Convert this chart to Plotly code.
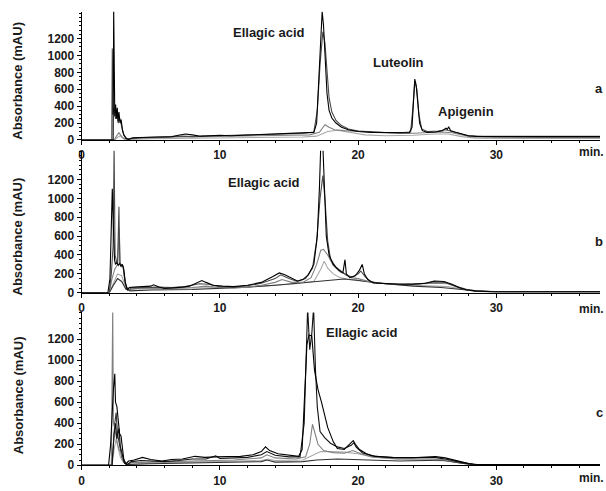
import plotly.graph_objects as go

# ---------------- DATA (time in min, absorbance in mAU) ----------------
# Panel a
a_black = [(0,0),(2.28,0),(2.32,1560),(2.36,600),(2.40,280),(2.46,420),(2.52,250),(2.58,380),(2.64,220),(2.70,330),
           (2.78,200),(2.86,240),(2.95,120),(3.05,60),(3.2,20),(3.4,5),(3.7,25),(4.2,30),(5.0,35),(5.8,40),(6.5,38),
           (7.0,55),(7.5,70),(8.0,60),(8.6,45),(9.2,50),(10.0,55),(10.8,50),(11.5,55),(12.3,60),(13.0,58),(13.8,65),
           (14.6,70),(15.4,78),(16.2,82),(16.8,90),(17.0,200),(17.15,650),(17.3,1200),(17.4,1520),(17.5,1350),
           (17.62,900),(17.75,550),(17.9,350),(18.1,260),(18.4,200),(18.8,150),(19.3,120),(20.0,100),(21.0,90),
           (22.0,85),(23.0,82),(23.7,85),(23.9,150),(24.0,450),(24.1,720),(24.2,650),(24.3,420),(24.45,200),
           (24.65,110),(25.0,90),(25.6,95),(26.1,110),(26.35,140),(26.45,125),(26.55,155),(26.7,110),(27.0,95),
           (27.5,70),(28.0,50),(28.5,42),(29.5,40),(31,40),(33,40),(35,40),(37.5,40)]
a_dark = [(0,0),(2.18,0),(2.22,1080),(2.27,300),(2.35,380),(2.45,250),(2.55,320),(2.65,200),(2.75,260),(2.9,150),
          (3.05,60),(3.3,10),(3.6,20),(4.5,30),(5.5,38),(6.5,42),(7.3,45),(8.0,40),(9.0,48),(10,52),(11,55),(12,60),
          (13,62),(14,68),(15,75),(16,80),(16.8,95),(17.05,350),(17.25,900),(17.45,1280),(17.6,1150),(17.75,800),
          (17.9,500),(18.1,330),(18.4,230),(18.8,170),(19.3,130),(20,105),(21,92),(22,88),(23,85),(23.8,95),
          (23.95,350),(24.1,690),(24.25,600),(24.4,300),(24.6,130),(25,100),(25.8,105),(26.3,120),(26.6,110),
          (27.2,85),(28,48),(29,42),(32,42),(37.5,42)]
a_mid = [(0,0),(2.35,0),(2.5,40),(2.7,85),(2.9,40),(3.1,10),(3.5,15),(5,25),(7,35),(9,40),(11,45),(13,50),(15,55),
         (16.5,60),(17.2,90),(17.6,180),(17.9,150),(18.3,120),(19,110),(20,100),(21,90),(22,80),(23,78),(24,80),
         (25,90),(26,95),(26.8,85),(27.5,60),(28.2,35),(30,30),(33,30),(37.5,30)]
a_light = [(0,0),(2.4,0),(2.6,30),(2.8,50),(3.0,20),(3.3,5),(5,15),(8,20),(11,25),(14,30),(16,35),(17,45),
           (17.8,100),(18.5,115),(19.3,90),(20.5,60),(22,50),(24,55),(25.5,70),(26.5,70),(27.5,40),(28.5,20),
           (31,18),(37.5,18)]

# Panel b
b_black = [(0,0),(1.9,0),(2.05,150),(2.15,700),(2.22,1100),(2.3,700),(2.38,350),(2.45,300),(2.55,320),(2.65,290),
           (2.75,310),(2.85,280),(2.95,300),(3.05,250),(3.15,120),(3.3,30),(3.45,55),(3.8,60),(4.4,65),(5.0,70),
           (5.2,85),(5.6,60),(6.0,45),(6.6,50),(7.3,60),(7.8,70),(8.3,100),(8.7,130),(9.0,110),(9.5,80),(10.2,70),
           (11,65),(12,80),(13,110),(13.8,170),(14.3,210),(14.7,190),(15.2,150),(15.6,125),(16.0,140),(16.4,190),
           (16.8,300),(17.05,600),(17.2,1100),(17.3,1560),(17.45,1560),(17.55,1100),(17.7,600),(17.9,400),
           (18.2,300),(18.6,240),(18.9,210),(19.05,350),(19.15,200),(19.4,160),(19.8,180),(20.1,240),(20.3,300),
           (20.45,200),(20.7,140),(21.1,105),(22,95),(23,90),(24,92),(24.9,100),(25.5,125),(26.2,120),(26.8,90),
           (27.3,55),(27.8,35),(28.5,20),(29.6,12),(31,10),(37.5,10)]
b_dark = [(0,0),(2.0,0),(2.15,200),(2.28,500),(2.35,1560),(2.42,400),(2.5,350),(2.6,300),(2.7,910),(2.76,320),
          (2.85,300),(3.0,280),(3.15,100),(3.35,25),(3.6,50),(4.5,55),(5.5,60),(6.5,55),(7.5,65),(8.5,95),(9.2,90),
          (10,65),(11,60),(12,75),(13,100),(14,150),(14.4,190),(15,150),(15.6,120),(16.2,150),(16.7,260),(17.0,550),
          (17.25,1000),(17.45,1240),(17.6,1000),(17.8,550),(18.0,360),(18.4,270),(18.8,220),(19.2,180),(19.6,170),
          (20.0,200),(20.2,230),(20.5,170),(20.9,120),(21.5,100),(23,90),(24.5,95),(25.5,115),(26.3,110),(27,70),
          (27.8,30),(28.6,15),(30,10),(37.5,10)]
b_mid = [(0,0),(2.0,0),(2.2,150),(2.4,250),(2.6,300),(2.72,680),(2.8,300),(3.0,270),(3.2,80),(3.4,30),(3.8,45),
         (5,50),(6.5,45),(8,55),(9,70),(10,55),(11,50),(12,60),(13,80),(14,110),(14.5,140),(15.2,110),(16,110),
         (16.6,160),(17.0,300),(17.3,450),(17.5,460),(17.8,400),(18.2,290),(18.7,220),(19.1,200),(19.5,160),
         (20.0,150),(20.5,130),(21,110),(22,95),(24,90),(25.5,100),(26.5,95),(27.3,60),(28,30),(29,15),(31,12),
         (37.5,12)]
b_light = [(0,0),(2.0,0),(2.3,100),(2.6,200),(2.9,180),(3.2,60),(3.4,30),(4,40),(6,45),(8,50),(10,50),(12,60),
           (14,80),(15.5,95),(16.8,120),(17.3,250),(17.55,335),(17.8,260),(18.2,200),(18.7,160),(19.2,145),
           (19.8,140),(20.5,120),(21.5,100),(23,85),(25,75),(26.5,65),(27.5,40),(28.5,20),(30,12),(37.5,12)]
b_low = [(0,0),(2.0,0),(2.3,80),(2.6,150),(2.9,120),(3.2,40),(3.5,20),(5,30),(8,35),(10,45),(12,60),(14,80),
         (16,105),(17.5,125),(19,145),(20,130),(22,95),(24,70),(26,55),(27.5,35),(28.5,18),(30,10),(37.5,10)]

# Panel c
c_black = [(0,0),(1.95,0),(2.1,200),(2.2,500),(2.3,720),(2.4,870),(2.45,600),(2.55,560),(2.65,420),(2.75,300),
           (2.85,280),(2.95,150),(3.05,60),(3.2,15),(3.4,40),(3.8,50),(4.4,75),(5.0,55),(5.8,40),(6.5,55),(7.3,60),
           (8.2,85),(8.9,75),(9.7,80),(10.5,85),(11.5,85),(12.4,100),(13.0,130),(13.3,175),(13.6,140),(14.2,110),
           (15.0,100),(15.7,85),(15.95,150),(16.15,800),(16.3,1150),(16.45,1240),(16.65,1230),(16.85,900),
           (17.1,720),(17.35,600),(17.8,360),(18.2,225),(18.5,160),(19.0,150),(19.3,190),(19.5,215),(19.65,235),
           (19.8,200),(20.1,150),(20.6,110),(21.2,85),(22.5,75),(24,72),(25,78),(25.6,82),(26.3,70),
           (26.9,50),(27.5,30),(28,16),(28.6,8),(30,6),(37.5,6)]
c_spikes = [(0,0),(2.2,0),(2.35,300),(2.45,400),(2.55,250),(2.7,350),(2.8,180),(2.95,100),(3.1,20),(3.3,5),
            (3.6,35),(4.3,45),(5,40),(6,35),(7,45),(8,60),(9,60),(9.7,90),(10,65),(11,70),(12,75),(13,100),
            (13.4,130),(14,95),(15,80),(15.8,80),(16.1,400),(16.35,1500),(16.5,1100),(16.65,1250),(16.78,1500),
            (16.92,900),(17.05,550),(17.25,320),(17.6,260),(18.0,210),(18.5,175),(19.0,160),(19.5,190),(19.7,215),
            (19.85,175),(20.3,120),(21,90),(22.5,72),(24.5,70),(25.5,75),(26.5,55),(27.5,25),(28.3,10),(30,6),
            (37.5,6)]
c_mid = [(0,0),(2.15,0),(2.25,1500),(2.3,400),(2.4,350),(2.5,250),(2.6,200),(2.7,150),(2.85,120),(3.0,50),
         (3.2,10),(3.6,25),(5,30),(7,35),(9,40),(11,50),(13,70),(13.4,100),(14,70),(15.5,60),(16.2,80),(16.5,200),
         (16.7,390),(16.9,300),(17.1,200),(17.5,140),(18.2,120),(19,115),(19.6,140),(20.2,110),(21,80),(22.5,65),
         (24.5,60),(26,55),(27.3,30),(28.3,10),(30,5),(37.5,5)]
c_light = [(0,0),(2.2,0),(2.35,150),(2.5,250),(2.65,160),(2.8,80),(3.0,30),(3.3,10),(5,20),(8,28),(11,35),(13,45),
           (13.5,60),(14,45),(16,50),(16.8,100),(17.3,130),(18,130),(19,125),(20,110),(21,80),(23,55),(25,45),
           (26.5,40),(27.5,20),(28.5,8),(30,5),(37.5,5)]
c_low = [(0,0),(2.2,0),(2.4,400),(2.5,500),(2.6,300),(2.75,180),(2.9,80),(3.1,20),(3.4,8),(5,15),(8,20),(11,25),
         (13,35),(13.4,50),(14,30),(16,35),(17,50),(18.5,60),(20,55),(21,45),(23,40),(25,45),(26,50),(27,30),
         (28,10),(30,5),(37.5,5)]

y_tick_vals = [0, 200, 400, 600, 800, 1000, 1200]
x_tick_vals = [0, 10, 20, 30]

# ---------------- FIGURE ----------------
W, H = 606, 491
def fx(p): return p / W
def fy(p): return 1 - p / H

FONT = "Liberation Sans, Arial, sans-serif"
TXT = "#1a1a1a"

panels = [
    ([(a_light, "#a8a8a8"), (a_mid, "#808080"), (a_dark, "#4a4a4a"), (a_black, "#000000")], 1515, 12, 142),
    ([(b_light, "#a8a8a8"), (b_low, "#303030"), (b_mid, "#808080"), (b_dark, "#4a4a4a"), (b_black, "#000000")], 1503, 153, 297),
    ([(c_light, "#a8a8a8"), (c_low, "#303030"), (c_mid, "#808080"), (c_spikes, "#111111"), (c_black, "#000000")], 1453, 317, 472),
]

fig = go.Figure()
layout = dict(width=W, height=H, margin=dict(l=0, r=0, t=0, b=0),
              paper_bgcolor="white", plot_bgcolor="white", showlegend=False,
              font=dict(family=FONT, color=TXT, size=12))

for i, (trs, ytop, dtop, dbot) in enumerate(panels):
    n = i + 1
    xa = "x" if n == 1 else f"x{n}"
    ya = "y" if n == 1 else f"y{n}"
    for data, col in trs:
        fig.add_trace(go.Scatter(x=[p[0] for p in data], y=[p[1] for p in data], mode="lines",
                                 line=dict(color=col, width=1.1), xaxis=xa, yaxis=ya,
                                 hoverinfo="skip"))
    xkey = "xaxis" if n == 1 else f"xaxis{n}"
    ykey = "yaxis" if n == 1 else f"yaxis{n}"
    layout[xkey] = dict(domain=[fx(79), fx(600)], range=[0, 37.5], anchor=ya,
                        showline=True, linecolor="black", linewidth=1, showgrid=False, zeroline=False,
                        tickmode="array", tickvals=x_tick_vals,
                        ticktext=[f"<b>{v}</b>" for v in x_tick_vals],
                        ticks="outside", ticklen=4, tickcolor="black", tickwidth=1,
                        minor=dict(ticks="outside", ticklen=2, tickmode="linear", tick0=0, dtick=2,
                                   tickcolor="black", showgrid=False),
                        tickfont=dict(size=12, family=FONT, color=TXT))
    layout[ykey] = dict(domain=[fy(dbot), fy(dtop)], range=[0, ytop], anchor=xa,
                        showline=True, linecolor="black", linewidth=1, showgrid=False, zeroline=False,
                        tickmode="array", tickvals=y_tick_vals,
                        ticktext=[f"<b>{v}</b>" for v in y_tick_vals],
                        ticks="outside", ticklen=4, tickcolor="black", tickwidth=1,
                        minor=dict(ticks="outside", ticklen=2, tickmode="linear", tick0=0, dtick=50,
                                   tickcolor="black", showgrid=False),
                        tickfont=dict(size=12, family=FONT, color=TXT))

fig.update_layout(**layout)

ann = []
def add_text(text, x, y, size=13, xanchor="center", angle=0):
    ann.append(dict(text=f"<b>{text}</b>", x=fx(x), y=fy(y), xref="paper", yref="paper",
                    showarrow=False, xanchor=xanchor, yanchor="middle", textangle=angle,
                    font=dict(size=size, family=FONT, color=TXT)))

add_text("Ellagic acid", 267, 33)
add_text("Luteolin", 397, 63)
add_text("Apigenin", 465, 113)
add_text("Ellagic acid", 262, 185)
add_text("Ellagic acid", 361, 337)
add_text("a", 605, 90, xanchor="right")
add_text("b", 605, 245, xanchor="right")
add_text("c", 605, 418, xanchor="right")
for yy in (154, 313, 485):
    add_text("min.", 591, yy, size=12)
for yy in (82, 240, 401):
    add_text("Absorbance (mAU)", 15, yy, angle=-90)

fig.update_layout(annotations=ann)
fig.write_html("out.html")
